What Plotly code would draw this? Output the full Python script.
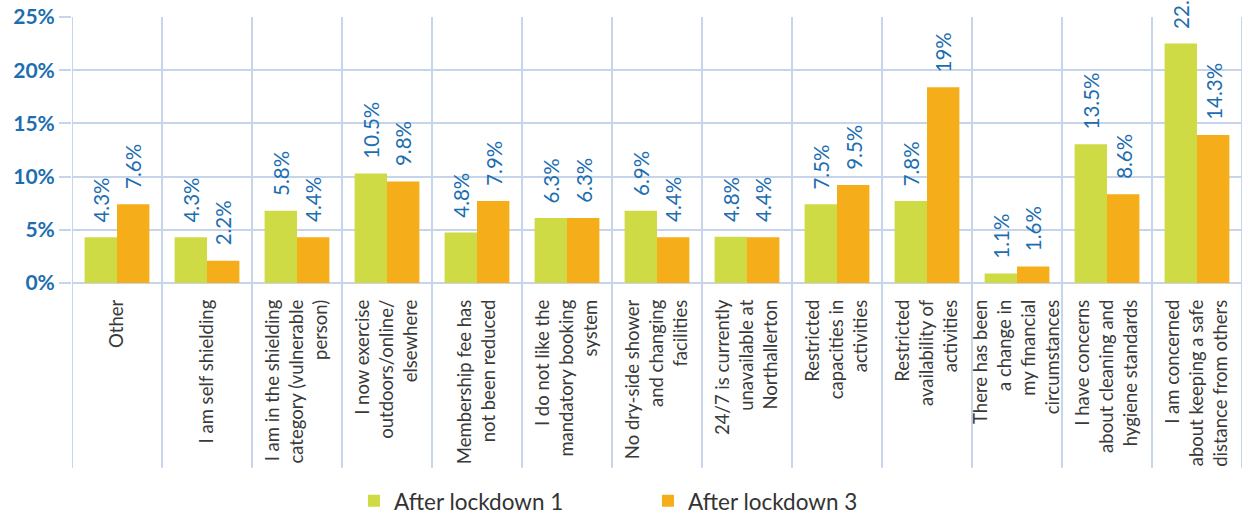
import plotly.graph_objects as go

categories = [
    "Other",
    "I am self shielding",
    "I am in the shielding<br>category (vulnerable<br>person)",
    "I now exercise<br>outdoors/online/<br>elsewhere",
    "Membership fee has<br>not been reduced",
    "I do not like the<br>mandatory booking<br>system",
    "No dry-side shower<br>and changing<br>facilities",
    "24/7 is currently<br>unavailable at<br>Northallerton",
    "Restricted<br>capacities in<br>activities",
    "Restricted<br>availability of<br>activities",
    "There has been<br>a change in<br>my financial<br>circumstances",
    "I have concerns<br>about cleaning and<br>hygiene standards",
    "I am concerned<br>about keeping a safe<br>distance from others",
]

lockdown1 = [4.3, 4.3, 6.8, 10.3, 4.75, 6.1, 6.8, 4.35, 7.4, 7.7, 0.9, 13.05, 22.5]
lockdown3 = [7.4, 2.1, 4.3, 9.55, 7.7, 6.1, 4.3, 4.3, 9.2, 18.4, 1.55, 8.35, 13.9]

labels1 = ["4.3%", "4.3%", "5.8%", "10.5%", "4.8%", "6.3%", "6.9%", "4.8%",
           "7.5%", "7.8%", "1.1%", "13.5%", "22.5%"]
labels3 = ["7.6%", "2.2%", "4.4%", "9.8%", "7.9%", "6.3%", "4.4%", "4.4%",
           "9.5%", "19%", "1.6%", "8.6%", "14.3%"]

series_names = ["After lockdown 1", "After lockdown 3"]
y_ticks = [0, 5, 10, 15, 20, 25]
y_ticktext = ["0%", "5%", "10%", "15%", "20%", "25%"]

GREEN = "#cedb45"
ORANGE = "#f5ae19"
BLUE = "#1c6eb0"
GRID = "#c6d5ea"
FONT = "Lato"

BARGAP = 0.28
half = (1 - BARGAP) / 4.0

xs = list(range(len(categories)))

fig = go.Figure()
fig.add_trace(go.Bar(x=xs, y=lockdown1, name=series_names[0], marker_color=GREEN,
                     marker_line_width=0))
fig.add_trace(go.Bar(x=xs, y=lockdown3, name=series_names[1], marker_color=ORANGE,
                     marker_line_width=0))

annotations = []
for i in xs:
    for off, val, txt in ((-half, lockdown1[i], labels1[i]), (half, lockdown3[i], labels3[i])):
        annotations.append(dict(
            x=i + off, y=val, xref="x", yref="y", text=txt, showarrow=False,
            textangle=-90, xanchor="center", yanchor="bottom", yshift=13,
            font=dict(family=FONT, size=20.5, color=BLUE),
        ))

shapes = []
for i in range(len(categories) + 1):
    shapes.append(dict(type="line", xref="x", yref="paper", x0=i - 0.5, x1=i - 0.5,
                       y0=1, y1=-0.695, line=dict(color=GRID, width=2), layer="below"))

fig.update_layout(
    width=1245, height=515,
    margin=dict(l=72, r=3, t=17, b=232, autoexpand=False),
    paper_bgcolor="white", plot_bgcolor="white",
    barmode="group", bargap=BARGAP, bargroupgap=0,
    font=dict(family=FONT, color="#333333"),
    annotations=annotations,
    shapes=shapes,
    legend=dict(orientation="h", x=0.241, xanchor="left", y=-0.82, yanchor="middle",
                font=dict(family=FONT, size=22.5, color="#333333"),
                entrywidth=249, entrywidthmode="pixels", traceorder="normal",
                borderwidth=0, bgcolor="rgba(0,0,0,0)"),
    xaxis=dict(
        tickmode="array", tickvals=xs, ticktext=categories, tickangle=-90,
        range=[-0.5, len(categories) - 0.5], showgrid=False, zeroline=False,
        showline=False, ticks="", ticklabelstandoff=12, automargin=False,
        tickfont=dict(family=FONT, size=18.5, color="#3a3a3a"),
    ),
    yaxis=dict(
        range=[0, 25], tickmode="array", tickvals=y_ticks, ticktext=y_ticktext,
        showgrid=True, gridcolor=GRID, gridwidth=2, zeroline=True, zerolinecolor=GRID,
        zerolinewidth=2, ticks="outside", ticklen=12, tickcolor=GRID, tickwidth=2,
        showline=False, automargin=False,
        tickfont=dict(family=FONT, size=21, color=BLUE, weight="bold"),
    ),
)

fig.write_html("out.html")
